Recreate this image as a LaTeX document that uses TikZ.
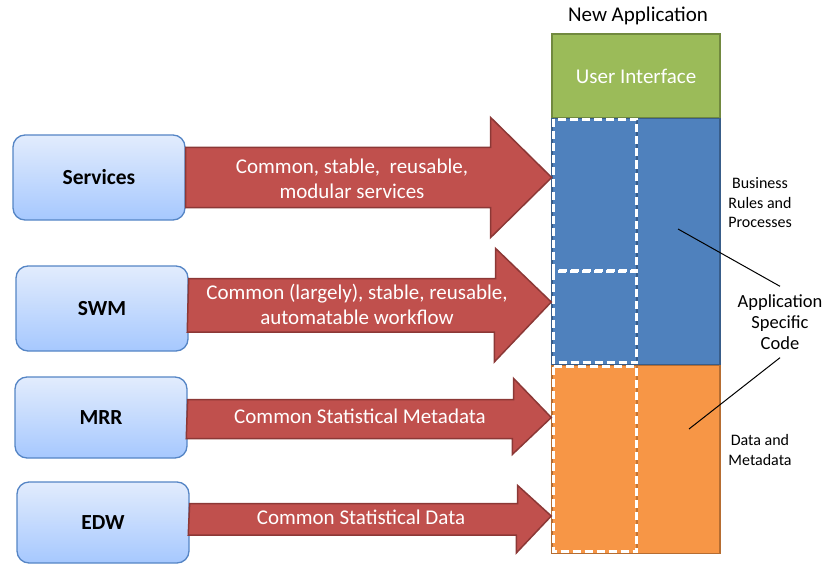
\documentclass[tikz,border=0pt]{standalone}
\usepackage{fontspec}
\setmainfont{Carlito}
\usetikzlibrary{positioning}

\definecolor{srcTop}{HTML}{E2ECFD}
\definecolor{srcBot}{HTML}{A6C8FE}
\definecolor{srcLine}{HTML}{5585C5}
\definecolor{arrFill}{HTML}{C0504D}
\definecolor{arrLine}{HTML}{8C3836}
\definecolor{uiFill}{HTML}{9BBB59}
\definecolor{uiLine}{HTML}{71893F}
\definecolor{bizFill}{HTML}{4F81BD}
\definecolor{bizLine}{HTML}{385D8A}
\definecolor{datFill}{HTML}{F79646}
\definecolor{datLine}{HTML}{B66D31}

\tikzset{
  srcbox/.style={draw=srcLine, line width=1.3pt, rounded corners=12pt,
    top color=srcTop, bottom color=srcBot, minimum width=172pt,
    font=\fontsize{21.5}{25}\selectfont\bfseries},
  bigarrow/.style={fill=arrFill, draw=arrLine, line width=1.5pt},
  arrowtext/.style={text=white, align=center, font=\fontsize{21}{25}\selectfont},
  layer/.style={minimum width=168pt, line width=1.5pt, inner sep=0pt},
  reuse/.style={draw=white, line width=2.5pt, dash pattern=on 8pt off 4pt},
  note/.style={align=center, font=\fontsize{16}{19.5}\selectfont},
}

\begin{document}
\begin{tikzpicture}[x=1pt,y=-1pt]
\useasboundingbox (0,0) rectangle (829,564);

% sources on the left
\node[srcbox, minimum height=85pt] (services) at (99,177.5) {Services};
\node[srcbox, minimum height=85pt] (swm) at (102,308.5) {SWM};
\node[srcbox, minimum height=81pt] (mrr) at (101,417.5) {MRR};
\node[srcbox, minimum height=81pt] (edw) at (103,522.5) {EDW};

% the new application stack
\node (newapp) at (638,16) {\fontsize{21}{25}\selectfont New Application};
\node[layer, fill=uiFill, draw=uiLine, minimum height=84pt, text=white,
  font=\fontsize{21}{25}\selectfont] (ui) at (636,76) {User Interface};
\node[layer, fill=bizFill, draw=bizLine, minimum height=246pt, below=-0.75pt of ui] (biz) {};
\node[layer, fill=datFill, draw=datLine, minimum height=188pt, below=-0.75pt of biz] (dat) {};
\draw[bizLine, line width=1.2pt] (637,119) -- (637,363);
\draw[datLine!80!datFill, line width=1.2pt] (637,366) -- (637,552);

% reused parts
\draw[reuse] (553.5,119.5) rectangle (636.5,270.5);
\draw[reuse] (553.5,271.5) rectangle (636.5,362.5);
\draw[reuse] (553.5,366.5) rectangle (636.5,551.5);

% block arrows into the stack
\draw[bigarrow] (services.east) ++(0,-30) -- ++(305,0) -- ++(0,-30)
    -- ++(61,60) -- ++(-61,60) -- ++(0,-30) -- ++(-305,0) -- cycle;
\draw[bigarrow] (swm.east) ++(0,-30) -- ++(307,0) -- ++(0,-30)
    -- (biz.west |- 0,302) -- ++(-57,60) -- ++(0,-30) -- ++(-307,0) -- cycle;
\draw[bigarrow] (mrr.east) ++(0,-18) -- ++(326,0) -- ++(0,-21)
    -- (dat.west |- mrr) -- ++(-39,37) -- ++(0,-16) -- ++(-326,0) -- cycle;
\draw[bigarrow] (edw.east) ++(0,-19) -- ++(328,0) -- ++(0,-18)
    -- (dat.west |- 0,516) -- ++(-35,37) -- ++(0,-18) -- ++(-328,0) -- cycle;

\node[arrowtext] (svcText) at (352,179) {Common, stable,\ \ reusable,\\modular services};
\node[arrowtext] (swmText) at (357,304) {Common (largely), stable, reusable,\\automatable workflow};
\node[arrowtext] (mrrText) at (360,416) {Common Statistical Metadata};
\node[arrowtext] (edwText) at (361,517) {Common Statistical Data};

% notes on the right
\node[note] (bizNote) at (760,203) {Business\\Rules and\\Processes};
\node[note] (datNote) at (760,450) {Data and\\Metadata};
\node[align=center, font=\fontsize{18.5}{21}\selectfont, inner sep=8pt] (asc) at (780,322)
    {Application\\Specific\\Code};
\coordinate (bizPt) at (678,229);
\coordinate (datPt) at (689,429);
\draw[line width=1pt] (asc.north) -- (bizPt);
\draw[line width=1pt] (asc.south) -- (datPt);
\end{tikzpicture}
\end{document}
